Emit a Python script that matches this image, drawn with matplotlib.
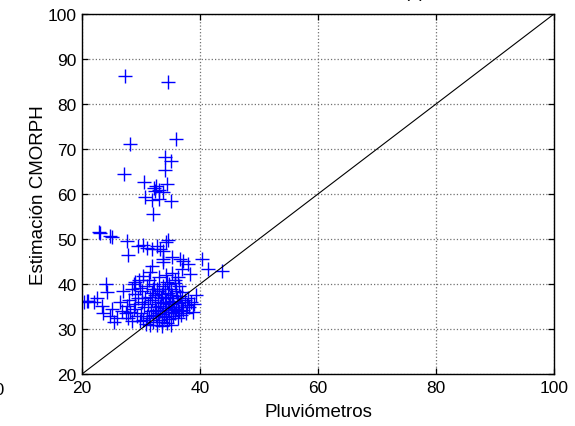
import matplotlib
matplotlib.use('Agg')
import matplotlib.pyplot as plt

plt.rcParams['font.family'] = ['Liberation Sans', 'DejaVu Sans']

# Rain gauge (x) vs CMORPH estimate (y)
pluvio = [27.3, 34.5, 28.2, 35.9, 34.0, 35.1, 34.1, 27.2, 30.5, 34.4,
          32.5, 32.2, 32.3, 33.0, 33.8, 30.7, 33.0, 35.0, 31.9, 32.0,
          22.8, 23.1, 24.7, 25.1, 27.6, 27.8, 29.5, 30.4, 31.0, 31.8,
          33.2, 34.6, 34.2, 33.8, 36.6, 40.3, 41.4, 43.7, 37.2, 38.0,
          35.2, 33.8, 32.7, 33.8, 36.9, 38.3, 31.9, 31.6,
          24.0, 24.2, 28.8, 29.0, 29.0,
          20.3, 20.8, 21.1, 22.0, 23.4, 25.1, 24.8, 25.4, 26.8, 26.5, 27.6,
          22.5, 23.5,
          30.0, 30.3, 30.5, 30.8, 31.0, 31.2, 31.4, 31.5, 31.7, 31.9,
          32.0, 32.1, 32.3, 32.4, 32.5, 32.6, 32.7, 32.8, 32.9, 33.0,
          33.1, 33.2, 33.3, 33.4, 33.5, 33.6, 33.7, 33.8, 33.9, 34.0,
          34.1, 34.2, 34.3, 34.4, 34.5, 34.6, 34.7, 34.8, 34.9, 35.0,
          35.1, 35.2, 35.3, 35.4, 35.5, 35.6, 35.7, 35.8, 35.9, 36.0,
          36.1, 36.2, 36.3, 36.4, 36.5, 36.6, 36.7, 36.8, 36.9, 37.0,
          37.2, 37.4, 37.6, 37.8, 38.0, 38.2, 38.5, 38.8, 39.0, 39.3,
          29.0, 29.3, 29.5, 29.8, 30.1, 30.6, 31.0, 31.3, 31.8, 32.2,
          32.7, 33.1, 33.5, 34.0, 34.3, 34.8, 35.3, 35.8, 36.2, 33.6,
          34.4, 35.0, 28.2, 28.5, 28.0, 27.8, 29.6, 30.4,
          27.0, 28.5, 29.8, 27.5, 26.0, 28.8, 30.2, 31.5, 32.0]
cmorph = [86.2, 85.0, 71.1, 72.2, 68.3, 67.3, 65.4, 64.4, 62.7, 62.2,
          61.8, 61.3, 60.7, 61.0, 60.4, 59.3, 58.9, 58.5, 58.7, 55.6,
          51.6, 51.3, 50.7, 50.4, 49.6, 46.4, 48.5, 48.7, 48.1, 47.8,
          47.8, 49.8, 49.3, 45.6, 45.6, 45.6, 43.3, 43.0, 45.2, 44.4,
          45.9, 44.8, 48.5, 47.4, 43.3, 42.2, 44.1, 42.6,
          40.0, 38.2, 40.0, 37.8, 40.4,
          35.9, 36.3, 36.3, 35.9, 35.2, 34.4, 33.0, 31.5, 34.1, 35.9, 35.2,
          37.0, 33.5,
          33.5, 32.0, 34.8, 31.2, 33.0, 35.5, 32.4, 30.8, 34.0, 36.5,
          33.2, 31.6, 35.0, 37.5, 32.8, 34.2, 30.9, 36.0, 33.6, 38.5,
          32.1, 35.2, 34.0, 36.8, 31.5, 33.3, 39.5, 35.8, 32.6, 34.7,
          37.2, 33.0, 36.0, 40.5, 34.2, 38.0, 32.3, 35.5, 36.8, 33.8,
          39.0, 34.9, 37.6, 32.8, 36.2, 35.0, 41.0, 33.5, 38.4, 34.5,
          36.9, 32.5, 35.8, 39.6, 34.0, 37.3, 33.2, 36.0, 35.0, 38.2,
          34.3, 36.5, 33.6, 35.4, 37.0, 34.8, 36.0, 33.8, 35.5, 37.5,
          35.5, 33.0, 37.0, 31.8, 38.5, 36.8, 39.5, 41.0, 38.0, 40.0,
          39.0, 41.5, 37.8, 39.0, 42.0, 40.0, 42.5, 40.2, 41.5, 30.6,
          31.3, 31.0, 33.8, 31.8, 36.5, 32.5, 40.8, 41.8,
          38.5, 38.8, 39.2, 33.5, 32.5, 34.5, 36.0, 37.2, 39.0]

x_ticks = [20, 40, 60, 80, 100]
y_ticks = [20, 30, 40, 50, 60, 70, 80, 90, 100]

fig = plt.figure(figsize=(5.75, 4.27), dpi=100)
ax = fig.add_axes([82 / 575, 1 - 375 / 427, 472 / 575, 360 / 427])

ax.plot(pluvio, cmorph, '+', color='#0000ff', markersize=9.5, markeredgewidth=1.0)
ax.plot([20, 100], [20, 100], color='black', linewidth=0.8)

ax.set_xlim(20, 100)
ax.set_ylim(20, 100)
ax.set_xticks(x_ticks)
ax.set_yticks(y_ticks)
ax.tick_params(direction='in', top=True, right=True, labelsize=12.5, length=4, width=0.9, pad=4)
ax.grid(True, linestyle=':', color='#707070', linewidth=0.9)
for sp in ax.spines.values():
    sp.set_linewidth(1.0)

ax.set_xlabel('Pluviómetros', fontsize=13.5, labelpad=6)
ax.set_ylabel('Estimación CMORPH', fontsize=13.5, labelpad=0)

# cut off pieces of neighbouring texts
fig.text(415 / 575, 1 + 3 / 427, '(b)', fontsize=13, ha='center', va='baseline')
fig.text(4 / 575, 1 - 391 / 427, '20', fontsize=12.5, ha='right', va='center')

fig.savefig('out.png', dpi=100)
